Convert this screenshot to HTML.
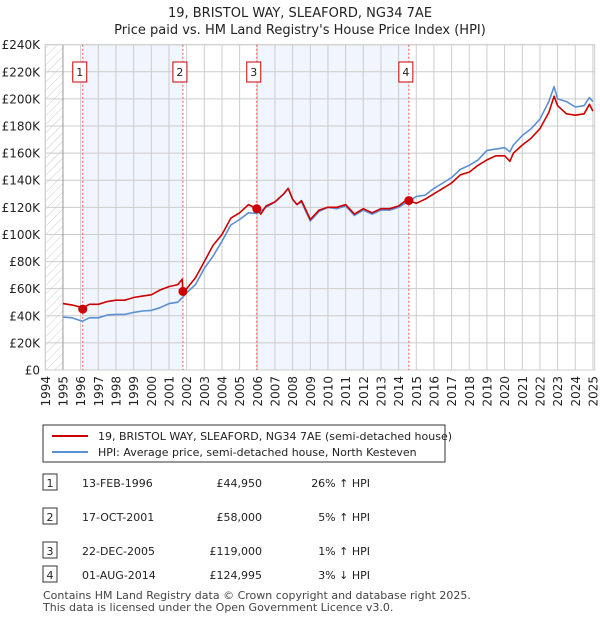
<!DOCTYPE html>
<html><head><meta charset="utf-8"><style>
body{margin:0;background:#fff;font-family:"Liberation Sans","DejaVu Sans",sans-serif;}
svg text{font-family:"DejaVu Sans","Liberation Sans",sans-serif;}
</style></head><body>
<svg width="600" height="620" viewBox="0 0 600 620" xmlns="http://www.w3.org/2000/svg">
<defs><pattern id="hatch" width="6" height="6" patternUnits="userSpaceOnUse" patternTransform="rotate(45)"><line x1="0" y1="0" x2="0" y2="6" stroke="#ccc" stroke-width="1"/></pattern></defs>
<text x="300" y="17" text-anchor="middle" font-size="13" fill="#222">19, BRISTOL WAY, SLEAFORD, NG34 7AE</text>
<text x="300" y="34" text-anchor="middle" font-size="13" fill="#222">Price paid vs. HM Land Registry's House Price Index (HPI)</text>
<g id="plot"></g>
<g id="legend">
<rect x="43" y="425" width="402" height="37" fill="#fff" stroke="#333" stroke-width="1"/>
<line x1="52" y1="436" x2="88" y2="436" stroke="#cc0000" stroke-width="2"/>
<text x="98" y="440" font-size="11" fill="#222">19, BRISTOL WAY, SLEAFORD, NG34 7AE (semi-detached house)</text>
<line x1="52" y1="452" x2="88" y2="452" stroke="#5b8fd4" stroke-width="2"/>
<text x="98" y="456" font-size="11" fill="#222">HPI: Average price, semi-detached house, North Kesteven</text>
</g>
<g id="table" font-size="11" fill="#222"></g>
<text x="43" y="599" font-size="11" fill="#444">Contains HM Land Registry data © Crown copyright and database right 2025.</text>
<text x="43" y="611" font-size="11" fill="#444">This data is licensed under the Open Government Licence v3.0.</text>
</svg>
<script>
const hpiX=[1995,1995.5,1996.1,1996.5,1997,1997.5,1998,1998.5,1999,1999.5,2000,2000.5,2001,2001.5,2001.8,2002,2002.5,2003,2003.5,2004,2004.5,2005,2005.5,2006,2006.5,2007,2007.5,2007.75,2008,2008.25,2008.5,2009,2009.5,2010,2010.5,2011,2011.5,2012,2012.5,2013,2013.5,2014,2014.5,2015,2015.5,2016,2016.5,2017,2017.5,2018,2018.5,2019,2019.5,2020,2020.3,2020.5,2021,2021.5,2022,2022.5,2022.8,2023,2023.5,2024,2024.5,2024.8,2025];
const hpiY=[39,38.5,36,38.5,38.5,40.5,41,41,42.5,43.5,44,46,49,50,54,57,63,75,84,95,107,111,116,115.5,120,124,130,134,126,122,124,110,117,120,119,121,114,118,115,118,118,120,124,128,129,134,138,142,148,151,155,162,163,164,161,166,173,178,185,198,209,200,198,194,195,201,198];
const priceX=[1995,1995.5,1996.12,1996.5,1997,1997.5,1998,1998.5,1999,1999.5,2000,2000.5,2001,2001.5,2001.75,2001.79,2002,2002.5,2003,2003.5,2004,2004.5,2005,2005.5,2005.97,2006.2,2006.5,2007,2007.5,2007.75,2008,2008.25,2008.5,2009,2009.5,2010,2010.5,2011,2011.5,2012,2012.5,2013,2013.5,2014,2014.5,2014.58,2015,2015.5,2016,2016.5,2017,2017.5,2018,2018.5,2019,2019.5,2020,2020.3,2020.5,2021,2021.5,2022,2022.5,2022.8,2023,2023.5,2024,2024.5,2024.8,2025];
const priceY=[49,48,46,48.5,48.5,50.5,51.5,51.5,53.5,54.5,55.5,59,61.5,63,67,58,60,68,80,92,100,112,116,122,119,115,121,124,130,134,126,122,125,111,118,120,120,122,115,119,116,119,119,121,126,125,123,126,130,134,138,144,146,151,155,158,158,154,160,166,171,178,190,202,195,189,188,189,196,191];
const saleX=[1996.12,2001.79,2005.97,2014.58];
const saleY=[44.95,58,119,124.995];
const saleLabels=["1","2","3","4"];
const saleDates=["13-FEB-1996","17-OCT-2001","22-DEC-2005","01-AUG-2014"];
const salePrices=["£44,950","£58,000","£119,000","£124,995"];
const saleHpi=["26% ↑ HPI","5% ↑ HPI","1% ↑ HPI","3% ↓ HPI"];
const yTicks=[0,20,40,60,80,100,120,140,160,180,200,220,240];
const xTicks=[1994,1995,1996,1997,1998,1999,2000,2001,2002,2003,2004,2005,2006,2007,2008,2009,2010,2011,2012,2013,2014,2015,2016,2017,2018,2019,2020,2021,2022,2023,2024,2025];

const L=45.3,R=594.7,T=44.7,B=370,x0=1994,x1=2025.1;
const X=v=>L+(v-x0)/(x1-x0)*(R-L);
const Y=v=>B-v/240*(B-T);
const NS="http://www.w3.org/2000/svg";
const plot=document.getElementById('plot');
function mk(tag,at,parent){const e=document.createElementNS(NS,tag);for(const k in at)e.setAttribute(k,at[k]);(parent||plot).appendChild(e);return e;}
let r;
r=mk('rect',{x:L,y:T,width:R-L,height:B-T,fill:'#fff'});

r=mk('rect',{x:L,y:T,width:X(1995)-L,height:B-T,fill:'url(#hatch)'});

[[0,1],[2,3]].forEach(p=>{const b=mk('rect',{x:X(saleX[p[0]]),y:T,width:X(saleX[p[1]])-X(saleX[p[0]]),height:B-T,fill:'#eef3fd',opacity:0.8});

});
yTicks.forEach(t=>{const g=mk('line',{x1:L,x2:R,y1:Y(t),y2:Y(t),stroke:'#ccc','stroke-width':1});


const tx=mk('text',{x:40,y:Y(t)+4.5,'text-anchor':'end','font-size':12,fill:'#222'});tx.textContent='£'+(t===0?'0':t+'K');

});
xTicks.forEach(t=>{const g=mk('line',{x1:X(t),x2:X(t),y1:T,y2:B,stroke:'#ccc','stroke-width':1});


const tx=mk('text',{x:0,y:0,'font-size':12,fill:'#222','text-anchor':'end',transform:`translate(${X(t)+4.5},${B+6}) rotate(-90)`});tx.textContent=t;

});
r=mk('line',{x1:X(1995),x2:X(1995),y1:T,y2:B,stroke:'#999'});

r=mk('rect',{x:L,y:T,width:R-L,height:B-T,fill:'none',stroke:'#ccc'});

saleX.forEach((s,i)=>{const l=mk('line',{x1:X(s),x2:X(s),y1:T,y2:B,stroke:'#e55','stroke-width':1,'stroke-dasharray':'2,2'});


const bx=mk('rect',{x:X(s)-10,y:62,width:14,height:20,fill:'#fff',stroke:'#cc0000'});


const t=mk('text',{x:X(s)-3,y:76,'text-anchor':'middle','font-size':11,fill:'#222'});t.textContent=saleLabels[i];

});
function line(xs,ys,c,n){const d=xs.map((v,i)=>(i?'L':'M')+X(v).toFixed(1)+','+Y(ys[i]).toFixed(1)).join('');
const p=mk('path',{d:d,fill:'none',stroke:c,'stroke-width':1.6,'stroke-linejoin':'round'});

}
line(hpiX,hpiY,'#5b8fd4','hpi-line');
line(priceX,priceY,'#cc0000','price-line');
saleX.forEach((s,i)=>{const c=mk('circle',{cx:X(s),cy:Y(saleY[i]),r:4.5,fill:'#cc0000'});

});
const tb=document.getElementById('table');
const rowsY=[483,517,551,575];
saleDates.forEach((d,i)=>{const y=rowsY[i];
const b=mk('rect',{x:43,y:y-9,width:14,height:16,fill:'#fff',stroke:'#333'},tb);


const cells=[[50,saleLabels[i],'middle'],[82,d,'start'],[262,salePrices[i],'end'],[370,saleHpi[i],'end']];
cells.forEach(c=>{const t=mk('text',{x:c[0],y:y+4,'text-anchor':c[2],'font-size':11,fill:'#222'},tb);t.textContent=c[1];

});});
</script>
</body></html>
